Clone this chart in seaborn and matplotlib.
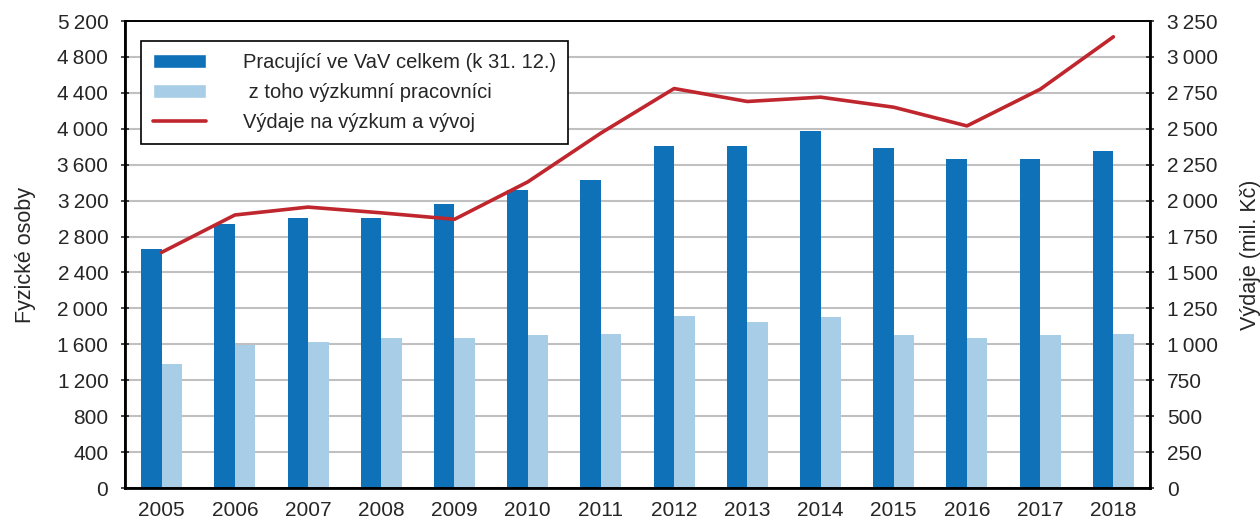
import numpy as np
import pandas as pd
import matplotlib
matplotlib.use('Agg')
import matplotlib.pyplot as plt
import seaborn as sns
from matplotlib.patches import Patch
from matplotlib.lines import Line2D
from matplotlib.ticker import FuncFormatter, MultipleLocator, FixedLocator

years = [str(y) for y in range(2005, 2019)]
celkem = [2660, 2940, 3010, 3010, 3160, 3320, 3430, 3810, 3810, 3970, 3790, 3660, 3660, 3750]
vyzkumni = [1380, 1590, 1630, 1670, 1670, 1700, 1720, 1920, 1850, 1900, 1700, 1670, 1700, 1720]
vydaje = [1640, 1900, 1955, 1915, 1870, 2130, 2470, 2780, 2690, 2720, 2650, 2520, 2775, 3140]

lab_celkem = 'Pracující ve VaV celkem (k 31. 12.)'
lab_vyzk = ' z toho výzkumní pracovníci'
lab_vydaje = 'Výdaje na výzkum a vývoj'

c_dark = '#0F71B7'
c_light = '#A8CDE7'
c_red = '#C0262D'

sns.set_style('white')
plt.rcParams['font.family'] = ['Liberation Sans', 'DejaVu Sans']
plt.rcParams['font.size'] = 15

df = pd.DataFrame({
    'rok': years * 2,
    'osoby': celkem + vyzkumni,
    'serie': [lab_celkem] * len(years) + [lab_vyzk] * len(years),
})

fig = plt.figure(figsize=(12.6, 5.2), dpi=100)
ax = fig.add_axes([0.0992, 0.0615, 0.8135, 0.8981])

sns.barplot(data=df, x='rok', y='osoby', hue='serie', palette=[c_dark, c_light],
            width=0.56, saturation=1, linewidth=0, ax=ax, legend=False)

ax2 = ax.twinx()
sns.lineplot(x=years, y=vydaje, color=c_red, lw=2.6, ax=ax2, sort=False)

fmt = FuncFormatter(lambda v, p: f'{int(v):,}'.replace(',', '\u2009'))

ax.set_xlim(-0.5, len(years) - 0.5)
ax.set_ylim(0, 5200)
ax.yaxis.set_major_locator(MultipleLocator(400))
ax.yaxis.set_major_formatter(fmt)
ax.grid(axis='y', color='#C0C0C0', lw=1.5)
ax.set_axisbelow(True)

ax2.set_ylim(0, 3250)
ax2.yaxis.set_major_locator(MultipleLocator(250))
ax2.yaxis.set_major_formatter(fmt)
ax2.grid(False)

ax.set_xlabel('')
ax.set_ylabel('Fyzické osoby', fontsize=15.5, labelpad=15)
ax2.set_ylabel('Výdaje (mil. Kč)', fontsize=15.5, labelpad=16)

ax.tick_params(axis='x', which='major', length=0, pad=9, labelsize=15)
ax.xaxis.set_minor_locator(FixedLocator(np.arange(-0.5, len(years), 1)))
ax.tick_params(axis='x', which='minor', length=6, width=1.5, direction='out', color='black')
ax.tick_params(axis='y', length=6, width=1.2, direction='inout', labelsize=15, pad=9)
ax2.tick_params(axis='y', length=6, width=1.2, direction='inout', labelsize=15, pad=9)

for a in (ax, ax2):
    for s in a.spines.values():
        s.set_visible(True)
        s.set_color('black')
        s.set_linewidth(1.2)
for side in ('left', 'bottom'):
    ax.spines[side].set_linewidth(2)
ax2.spines['right'].set_linewidth(2)

handles = [Patch(facecolor=c_dark), Patch(facecolor=c_light),
           Line2D([0], [0], color=c_red, lw=2.6)]
leg = ax2.legend(handles, [lab_celkem, lab_vyzk, lab_vydaje], loc='upper left',
                 bbox_to_anchor=(0.0156, 0.957), borderaxespad=0, frameon=True,
                 fancybox=False, framealpha=1, edgecolor='black', fontsize=14.5,
                 handlelength=2.65, handleheight=0.65, handletextpad=1.8,
                 labelspacing=0.55, borderpad=0.6)
leg.get_frame().set_linewidth(1.2)

fig.savefig('out.png', dpi=100)
